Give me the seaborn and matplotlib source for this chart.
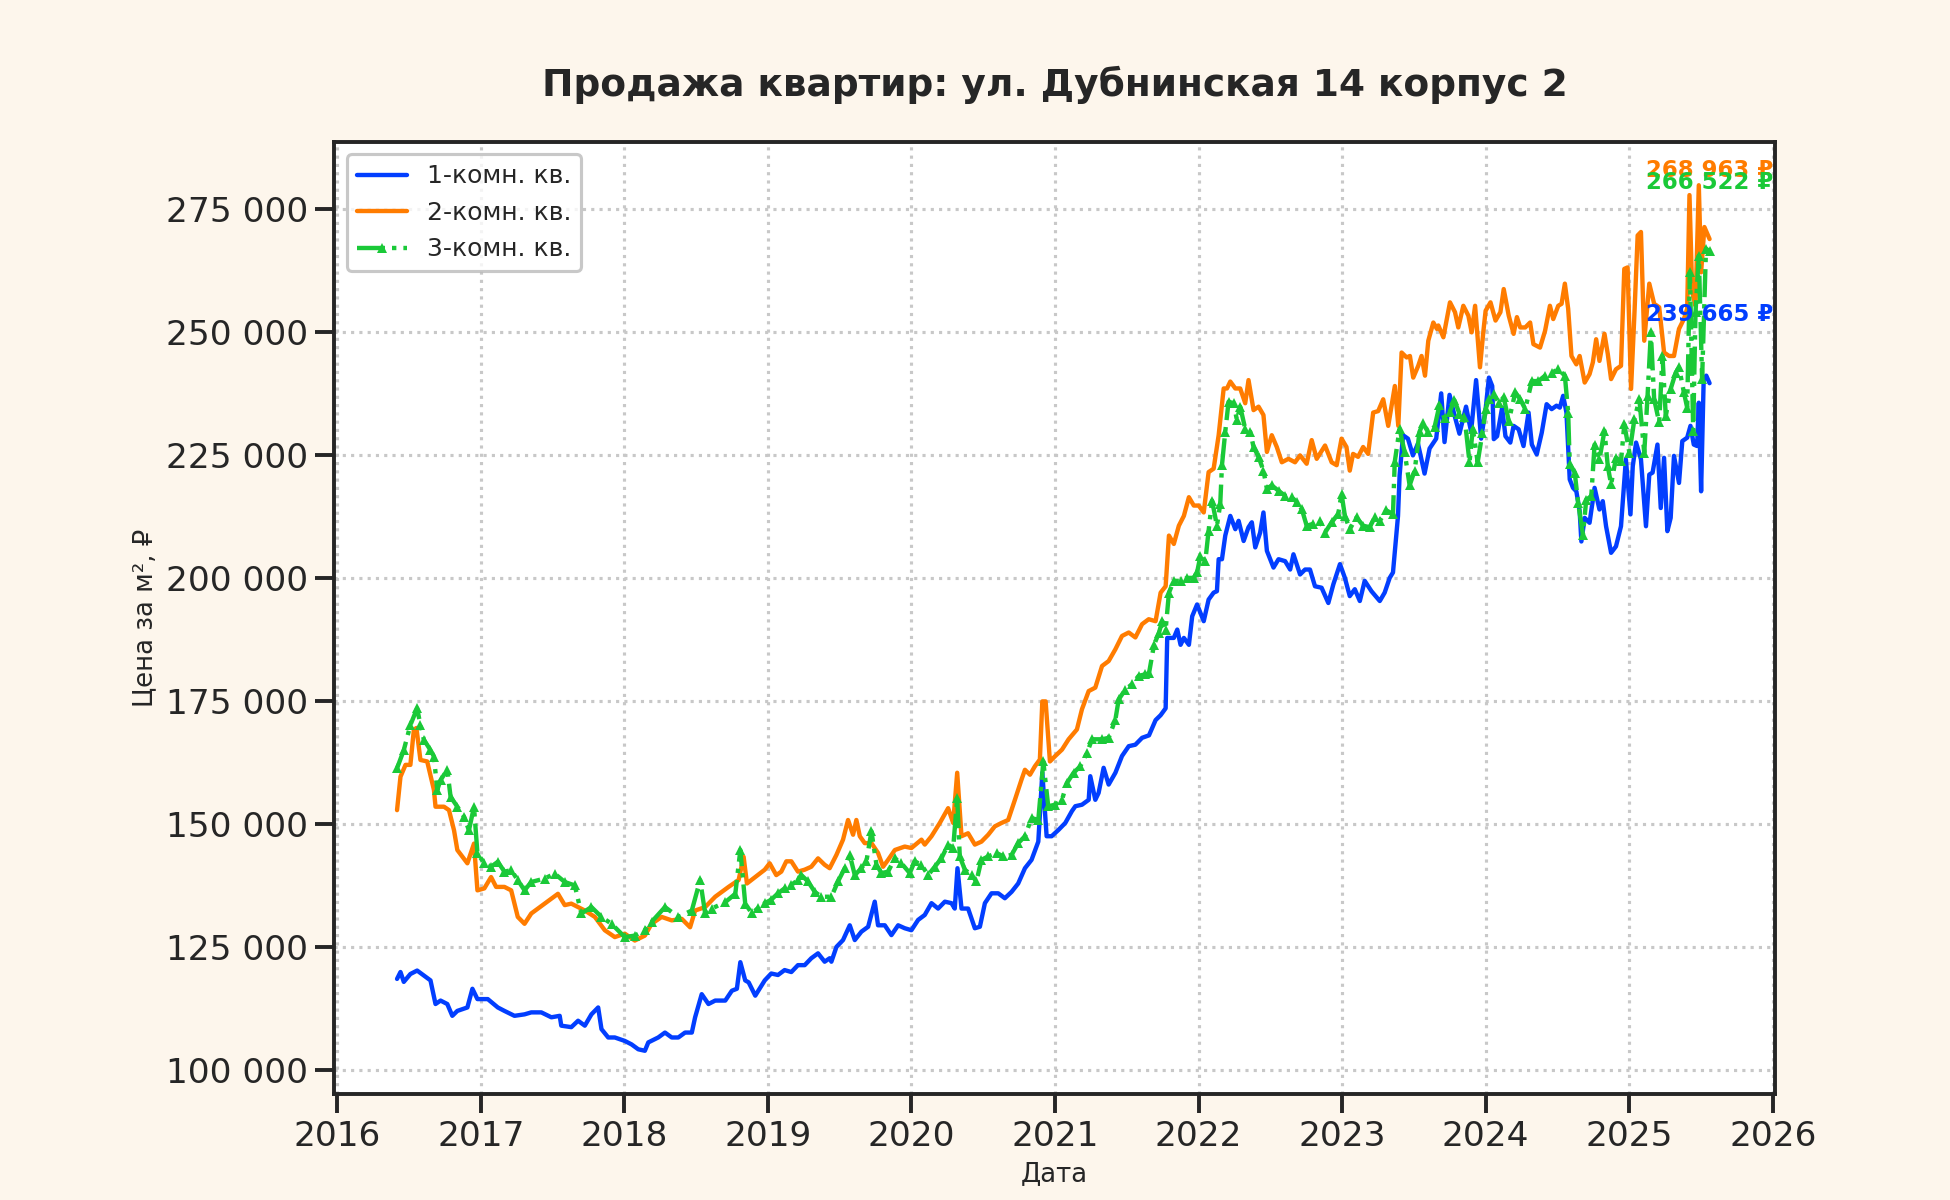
import numpy as np
import pandas as pd
import matplotlib
matplotlib.use("Agg")
import matplotlib.pyplot as plt
import matplotlib.dates as mdates
from matplotlib.ticker import FuncFormatter
import seaborn as sns

TITLE   = "Продажа квартир: ул. Дубнинская 14 корпус 2"
LABELS  = ["1-комн. кв.", "2-комн. кв.", "3-комн. кв."]
COLORS  = ["#023eff", "#ff7c00", "#1ac938"]
XLABEL  = "Дата"
YLABEL  = "Цена за м², ₽"

# (date as decimal year, price per m2)
one_room = [
    (2016.417, 118600), (2016.441, 120000), (2016.464, 118000), (2016.510, 119600), (2016.557, 120300),
    (2016.604, 119300), (2016.650, 118300), (2016.685, 113500), (2016.720, 114200), (2016.767, 113500),
    (2016.802, 111100), (2016.837, 112100), (2016.907, 112800), (2016.942, 116600), (2016.977, 114500),
    (2017.047, 114500), (2017.117, 112800), (2017.163, 112100), (2017.233, 111100), (2017.303, 111400),
    (2017.350, 111800), (2017.420, 111800), (2017.490, 110800), (2017.548, 111100), (2017.559, 109100),
    (2017.629, 108800), (2017.676, 110100), (2017.723, 109100), (2017.769, 111400), (2017.816, 112800),
    (2017.839, 108400), (2017.886, 106700), (2017.932, 106700), (2018.002, 106000), (2018.049, 105300),
    (2018.096, 104300), (2018.142, 104000), (2018.166, 105700), (2018.235, 106700), (2018.282, 107700),
    (2018.329, 106700), (2018.375, 106700), (2018.422, 107700), (2018.469, 107700), (2018.492, 110800),
    (2018.538, 115500), (2018.585, 113500), (2018.632, 114200), (2018.702, 114200), (2018.748, 116200),
    (2018.783, 116600), (2018.807, 122000), (2018.841, 118300), (2018.865, 117900), (2018.911, 115200),
    (2018.977, 118300), (2019.023, 119700), (2019.070, 119400), (2019.116, 120400), (2019.163, 120000),
    (2019.209, 121400), (2019.256, 121400), (2019.302, 122800), (2019.349, 123800), (2019.395, 122100),
    (2019.430, 122800), (2019.442, 122100), (2019.477, 125100), (2019.523, 126500), (2019.570, 129500),
    (2019.605, 126500), (2019.651, 128200), (2019.698, 129200), (2019.744, 134300), (2019.767, 129500),
    (2019.814, 129500), (2019.860, 127500), (2019.907, 129500), (2019.953, 128900), (2020.000, 128500),
    (2020.047, 130600), (2020.093, 131600), (2020.140, 134000), (2020.186, 132900), (2020.233, 134300),
    (2020.279, 134000), (2020.302, 132900), (2020.321, 141100), (2020.349, 132900), (2020.395, 132900),
    (2020.442, 128900), (2020.477, 129200), (2020.512, 134000), (2020.558, 136000), (2020.605, 136000),
    (2020.651, 135000), (2020.698, 136300), (2020.744, 138000), (2020.791, 141100), (2020.837, 142800),
    (2020.884, 146500), (2020.912, 160500), (2020.942, 147600), (2020.977, 147600), (2021.023, 148900),
    (2021.070, 150300), (2021.116, 152700), (2021.140, 153700), (2021.186, 154000), (2021.233, 155000),
    (2021.244, 159800), (2021.279, 155000), (2021.302, 156400), (2021.337, 161500), (2021.372, 158100),
    (2021.419, 160500), (2021.465, 163900), (2021.512, 165900), (2021.558, 166200), (2021.605, 167600),
    (2021.653, 168100), (2021.699, 171200), (2021.734, 172200), (2021.769, 173600), (2021.780, 187900),
    (2021.826, 187900), (2021.850, 189600), (2021.873, 186500), (2021.896, 187900), (2021.931, 186500),
    (2021.954, 192300), (2021.988, 194700), (2022.035, 191300), (2022.069, 195700), (2022.104, 197100),
    (2022.127, 197400), (2022.139, 203900), (2022.162, 203900), (2022.185, 208700), (2022.220, 212700),
    (2022.255, 210000), (2022.278, 211700), (2022.313, 207600), (2022.347, 210400), (2022.370, 211400),
    (2022.394, 206300), (2022.428, 209300), (2022.451, 213400), (2022.475, 205600), (2022.521, 202200),
    (2022.556, 203900), (2022.602, 203500), (2022.637, 201800), (2022.660, 204900), (2022.706, 200800),
    (2022.741, 201800), (2022.775, 201800), (2022.810, 198400), (2022.856, 198100), (2022.903, 195000),
    (2022.938, 198800), (2022.984, 202900), (2023.019, 200100), (2023.053, 196400), (2023.088, 197800),
    (2023.123, 195400), (2023.157, 199500), (2023.204, 197400), (2023.262, 195400), (2023.296, 197100),
    (2023.331, 200100), (2023.354, 201200), (2023.377, 208700), (2023.389, 212700), (2023.400, 220900),
    (2023.424, 229100), (2023.458, 228400), (2023.493, 225000), (2023.528, 227400), (2023.574, 221300),
    (2023.609, 226400), (2023.655, 228400), (2023.690, 237600), (2023.713, 227700), (2023.748, 237300),
    (2023.782, 233200), (2023.817, 229400), (2023.863, 234900), (2023.898, 229800), (2023.933, 240300),
    (2023.968, 228400), (2024.000, 234400), (2024.023, 240800), (2024.046, 239100), (2024.057, 228300),
    (2024.080, 228900), (2024.115, 234700), (2024.138, 228900), (2024.172, 227600), (2024.195, 231000),
    (2024.230, 230300), (2024.264, 226900), (2024.299, 233700), (2024.322, 227200), (2024.356, 225200),
    (2024.391, 229600), (2024.425, 235400), (2024.460, 234400), (2024.494, 235100), (2024.517, 234700),
    (2024.540, 237100), (2024.563, 233700), (2024.586, 220100), (2024.609, 218400), (2024.632, 217700),
    (2024.655, 213700), (2024.667, 207500), (2024.690, 212300), (2024.724, 211300), (2024.759, 218400),
    (2024.793, 214000), (2024.816, 215700), (2024.839, 210600), (2024.874, 205200), (2024.908, 206500),
    (2024.943, 210600), (2024.977, 224200), (2025.007, 213000), (2025.023, 222800), (2025.046, 227600),
    (2025.080, 224200), (2025.115, 210600), (2025.138, 221100), (2025.161, 221500), (2025.195, 227200),
    (2025.218, 214300), (2025.241, 224500), (2025.264, 209600), (2025.287, 212300), (2025.310, 224900),
    (2025.345, 219400), (2025.368, 227900), (2025.402, 228600), (2025.425, 231000), (2025.448, 227200),
    (2025.471, 226900), (2025.483, 235700), (2025.499, 217700), (2025.517, 240500), (2025.535, 241200),
    (2025.558, 239665),
]

two_room = [
    (2016.417, 152900), (2016.441, 159700), (2016.476, 162100), (2016.510, 162100), (2016.534, 169200),
    (2016.552, 169600), (2016.580, 163100), (2016.627, 162800), (2016.674, 157000), (2016.685, 153600),
    (2016.744, 153600), (2016.779, 152900), (2016.814, 148800), (2016.837, 144800), (2016.907, 142100),
    (2016.953, 146100), (2016.977, 136600), (2017.023, 137000), (2017.070, 139300), (2017.105, 137300),
    (2017.163, 137300), (2017.210, 136600), (2017.256, 131200), (2017.303, 129800), (2017.350, 131900),
    (2017.396, 132900), (2017.443, 133900), (2017.490, 134900), (2017.536, 135900), (2017.583, 133600),
    (2017.629, 133900), (2017.676, 133200), (2017.723, 132500), (2017.793, 131200), (2017.862, 128500),
    (2017.932, 127100), (2018.002, 127800), (2018.072, 126400), (2018.142, 127400), (2018.189, 129800),
    (2018.259, 131200), (2018.329, 130500), (2018.399, 130800), (2018.457, 129100), (2018.492, 132500),
    (2018.562, 133200), (2018.632, 135300), (2018.725, 137300), (2018.795, 138700), (2018.830, 143400),
    (2018.853, 138000), (2018.911, 139300), (2018.977, 140800), (2019.012, 142100), (2019.058, 139700),
    (2019.093, 140400), (2019.128, 142500), (2019.163, 142500), (2019.209, 140400), (2019.256, 140800),
    (2019.302, 141400), (2019.349, 143100), (2019.395, 141800), (2019.430, 141100), (2019.477, 143800),
    (2019.523, 146900), (2019.558, 150900), (2019.593, 147900), (2019.616, 150900), (2019.640, 147600),
    (2019.674, 146200), (2019.721, 146200), (2019.767, 144200), (2019.802, 141400), (2019.837, 142800),
    (2019.884, 144800), (2019.953, 145500), (2020.000, 145200), (2020.070, 146900), (2020.093, 145900),
    (2020.140, 147600), (2020.198, 150300), (2020.256, 153300), (2020.291, 150300), (2020.319, 160500),
    (2020.349, 147600), (2020.395, 148200), (2020.442, 145900), (2020.488, 146500), (2020.535, 147900),
    (2020.581, 149600), (2020.628, 150300), (2020.674, 150900), (2020.721, 155000), (2020.767, 159100),
    (2020.791, 161100), (2020.826, 160100), (2020.860, 161800), (2020.895, 163200), (2020.912, 175000),
    (2020.935, 175000), (2020.965, 162800), (2021.000, 163900), (2021.047, 165200), (2021.093, 167300),
    (2021.151, 169300), (2021.186, 173400), (2021.233, 177100), (2021.279, 177800), (2021.326, 182200),
    (2021.372, 183200), (2021.419, 185600), (2021.465, 188300), (2021.512, 189000), (2021.558, 188000),
    (2021.605, 190700), (2021.651, 191700), (2021.699, 191300), (2021.734, 197100), (2021.769, 198400),
    (2021.792, 208700), (2021.826, 207000), (2021.861, 210700), (2021.896, 212700), (2021.931, 216500),
    (2021.965, 214800), (2022.000, 214800), (2022.035, 213400), (2022.069, 221600), (2022.104, 222300),
    (2022.139, 229100), (2022.174, 238600), (2022.197, 238600), (2022.220, 240000), (2022.255, 238600),
    (2022.289, 238600), (2022.324, 235600), (2022.347, 240300), (2022.382, 234200), (2022.417, 234900),
    (2022.451, 233200), (2022.475, 225700), (2022.509, 229100), (2022.544, 226700), (2022.579, 223600),
    (2022.625, 224300), (2022.671, 223600), (2022.706, 225000), (2022.752, 223300), (2022.787, 228100),
    (2022.822, 224300), (2022.880, 227000), (2022.926, 223600), (2022.961, 223000), (2022.995, 228400),
    (2023.030, 226700), (2023.053, 221900), (2023.076, 225300), (2023.111, 224700), (2023.146, 226700),
    (2023.181, 225300), (2023.216, 233700), (2023.251, 234000), (2023.286, 236400), (2023.321, 231000),
    (2023.367, 239100), (2023.391, 231000), (2023.414, 245900), (2023.449, 244900), (2023.472, 245200),
    (2023.495, 240800), (2023.530, 243200), (2023.553, 245200), (2023.577, 241200), (2023.600, 248300),
    (2023.635, 252000), (2023.660, 250700), (2023.670, 251400), (2023.705, 249000), (2023.751, 256100),
    (2023.786, 254100), (2023.809, 251000), (2023.844, 255400), (2023.879, 253400), (2023.902, 250000),
    (2023.926, 255400), (2023.960, 242900), (2023.984, 250300), (2024.000, 254400), (2024.034, 256100),
    (2024.069, 252400), (2024.103, 254100), (2024.126, 258800), (2024.161, 253400), (2024.195, 249700),
    (2024.218, 253100), (2024.241, 251000), (2024.276, 251000), (2024.310, 252000), (2024.333, 247600),
    (2024.379, 246900), (2024.414, 250300), (2024.448, 255400), (2024.471, 252700), (2024.506, 255400),
    (2024.529, 255800), (2024.552, 259900), (2024.575, 254800), (2024.598, 245200), (2024.632, 243500),
    (2024.655, 245200), (2024.690, 239800), (2024.724, 241500), (2024.747, 243900), (2024.770, 248600),
    (2024.793, 244200), (2024.828, 249700), (2024.851, 245600), (2024.874, 240500), (2024.908, 242500),
    (2024.943, 243200), (2024.966, 262900), (2024.989, 263200), (2025.011, 238500), (2025.034, 253400),
    (2025.057, 269700), (2025.080, 270400), (2025.103, 248300), (2025.138, 259900), (2025.172, 255800),
    (2025.207, 255100), (2025.241, 245900), (2025.276, 245200), (2025.310, 245200), (2025.345, 250700),
    (2025.379, 252700), (2025.402, 254800), (2025.418, 277900), (2025.437, 258200), (2025.460, 255400),
    (2025.483, 279900), (2025.499, 262200), (2025.522, 271400), (2025.558, 268963),
]

three_room = [
    (2016.417, 161400), (2016.464, 165100), (2016.510, 170200), (2016.557, 173600), (2016.580, 170200),
    (2016.604, 167200), (2016.650, 165100), (2016.674, 163800), (2016.697, 157000), (2016.720, 159000),
    (2016.767, 161100), (2016.790, 155600), (2016.837, 153600), (2016.883, 151600), (2016.918, 148800),
    (2016.953, 153600), (2016.977, 144100), (2017.023, 142100), (2017.070, 141400), (2017.117, 142400),
    (2017.163, 140400), (2017.210, 140700), (2017.256, 138700), (2017.303, 136600), (2017.350, 138300),
    (2017.443, 139000), (2017.513, 140000), (2017.583, 138300), (2017.653, 137600), (2017.699, 131900),
    (2017.769, 133200), (2017.839, 131200), (2017.909, 129800), (2018.002, 127100), (2018.072, 127400),
    (2018.142, 128500), (2018.189, 130200), (2018.282, 133200), (2018.375, 131200), (2018.469, 132500),
    (2018.527, 138700), (2018.562, 131900), (2018.608, 132900), (2018.702, 134200), (2018.772, 135900),
    (2018.807, 144800), (2018.841, 133900), (2018.888, 131900), (2018.930, 133000), (2018.977, 134000),
    (2019.023, 134700), (2019.070, 136000), (2019.116, 137000), (2019.163, 137700), (2019.209, 138700),
    (2019.233, 139700), (2019.279, 138400), (2019.326, 136300), (2019.372, 135300), (2019.442, 135300),
    (2019.488, 138400), (2019.535, 141100), (2019.570, 143800), (2019.605, 139700), (2019.651, 141100),
    (2019.686, 142500), (2019.721, 148600), (2019.756, 141800), (2019.791, 140100), (2019.837, 140400),
    (2019.884, 143100), (2019.930, 142100), (2019.988, 140100), (2020.023, 142500), (2020.070, 141800),
    (2020.116, 139700), (2020.163, 141400), (2020.209, 143100), (2020.256, 145900), (2020.291, 145200),
    (2020.319, 155400), (2020.337, 143500), (2020.372, 140800), (2020.419, 139700), (2020.453, 138400),
    (2020.488, 142800), (2020.535, 143500), (2020.593, 144200), (2020.640, 143500), (2020.698, 143800),
    (2020.744, 146200), (2020.791, 147600), (2020.837, 151300), (2020.884, 150900), (2020.919, 162800),
    (2020.953, 153700), (2021.000, 154000), (2021.047, 155000), (2021.081, 158400), (2021.128, 160500),
    (2021.174, 161800), (2021.221, 164500), (2021.256, 167300), (2021.326, 167300), (2021.372, 167600),
    (2021.419, 171300), (2021.442, 175400), (2021.488, 177400), (2021.535, 178500), (2021.581, 180200),
    (2021.628, 180500), (2021.653, 180700), (2021.688, 186500), (2021.722, 188900), (2021.745, 191300),
    (2021.769, 189600), (2021.792, 197100), (2021.826, 199500), (2021.873, 199500), (2021.919, 200100),
    (2021.965, 200100), (2021.988, 201200), (2022.012, 204600), (2022.046, 203500), (2022.069, 209700),
    (2022.093, 215800), (2022.127, 210700), (2022.150, 215100), (2022.162, 223000), (2022.185, 229800),
    (2022.208, 235900), (2022.243, 235600), (2022.266, 232200), (2022.289, 234900), (2022.324, 230400),
    (2022.359, 229800), (2022.382, 226700), (2022.417, 224700), (2022.451, 221900), (2022.475, 218200),
    (2022.509, 218900), (2022.556, 217800), (2022.602, 216800), (2022.648, 216500), (2022.683, 215500),
    (2022.718, 214100), (2022.752, 210700), (2022.799, 211100), (2022.845, 211700), (2022.880, 209300),
    (2022.926, 211400), (2022.972, 213100), (2022.995, 217200), (2023.019, 212700), (2023.053, 210000),
    (2023.100, 212400), (2023.146, 210700), (2023.192, 210400), (2023.227, 212400), (2023.262, 211700),
    (2023.308, 213800), (2023.354, 213100), (2023.366, 223600), (2023.400, 230400), (2023.435, 225700),
    (2023.470, 218900), (2023.505, 221900), (2023.539, 229800), (2023.563, 231500), (2023.597, 229800),
    (2023.644, 230800), (2023.678, 235200), (2023.713, 232500), (2023.748, 233800), (2023.782, 236200),
    (2023.817, 233500), (2023.852, 232900), (2023.887, 223600), (2023.910, 230400), (2023.944, 223600),
    (2023.977, 229600), (2024.000, 234400), (2024.023, 236400), (2024.057, 237400), (2024.092, 235700),
    (2024.126, 236800), (2024.161, 232000), (2024.207, 237800), (2024.241, 236400), (2024.276, 234400),
    (2024.322, 240100), (2024.368, 240100), (2024.414, 241200), (2024.460, 241800), (2024.506, 242500),
    (2024.552, 241200), (2024.575, 233700), (2024.586, 223200), (2024.621, 221500), (2024.644, 215400),
    (2024.678, 208900), (2024.701, 216000), (2024.736, 216700), (2024.759, 227200), (2024.793, 224200),
    (2024.828, 230000), (2024.851, 222800), (2024.874, 219100), (2024.908, 224500), (2024.943, 223800),
    (2024.966, 231300), (2025.000, 225500), (2025.034, 232300), (2025.069, 236400), (2025.103, 225500),
    (2025.126, 237100), (2025.149, 250000), (2025.172, 236400), (2025.207, 231700), (2025.230, 245200),
    (2025.253, 233000), (2025.287, 238500), (2025.322, 241800), (2025.345, 242900), (2025.379, 237800),
    (2025.402, 234700), (2025.421, 262200), (2025.444, 230000), (2025.460, 254100), (2025.483, 265600),
    (2025.506, 240500), (2025.533, 267000), (2025.558, 266522),
]


def to_frame(pairs):
    yrs = np.array([p[0] for p in pairs])
    base = pd.to_datetime(yrs.astype(int).astype(str), format="%Y")
    dates = base + pd.to_timedelta((yrs % 1) * 365.25, unit="D")
    return pd.DataFrame({"date": dates, "price": [p[1] for p in pairs]})


def money(v, _=None):
    return f"{v:,.0f}".replace(",", " ")


sns.set_theme(style="ticks", context="talk")
plt.rcParams["font.family"] = ["DejaVu Sans"]

fig, ax = plt.subplots(figsize=(13, 8), dpi=150)
fig.patch.set_facecolor("#fdf6ec")
ax.set_facecolor("white")
fig.subplots_adjust(left=0.1715, right=0.910, top=0.8817, bottom=0.0883)

series = [one_room, two_room, three_room]
styles = [
    dict(linestyle="-"),
    dict(linestyle="-"),
    dict(linestyle="-.", marker="^", markersize=5, markevery=1, mew=0),
]
for pairs, lab, col, st in zip(series, LABELS, COLORS, styles):
    df = to_frame(pairs)
    sns.lineplot(data=df, x="date", y="price", ax=ax, color=col, label=lab,
                 lw=2.1, errorbar=None, **st)
    last = df.iloc[-1]
    ax.annotate(money(last["price"]) + " ₽", xy=(last["date"], last["price"]),
                xytext=(0, 33), textcoords="offset points", ha="center", va="center",
                color=col, fontsize=11, fontweight="bold")

ax.set_xlim(pd.Timestamp("2015-12-25"), pd.Timestamp("2026-01-05"))
ax.xaxis.set_major_locator(mdates.YearLocator())
ax.xaxis.set_major_formatter(mdates.DateFormatter("%Y"))
ax.yaxis.set_major_formatter(FuncFormatter(money))
ax.tick_params(labelsize=16.5)
ax.grid(True, linestyle=":", color="#c8c8c8", linewidth=1.5)

ax.set_title(TITLE, fontsize=18, fontweight="bold", pad=22)
ax.set_xlabel(XLABEL, fontsize=12.5)
ax.set_ylabel(YLABEL, fontsize=12.5)
ax.legend(loc="upper left", fontsize=12, frameon=True, facecolor="white", edgecolor="#bbbbbb")

fig.savefig("out.png", dpi=150, facecolor=fig.get_facecolor())
